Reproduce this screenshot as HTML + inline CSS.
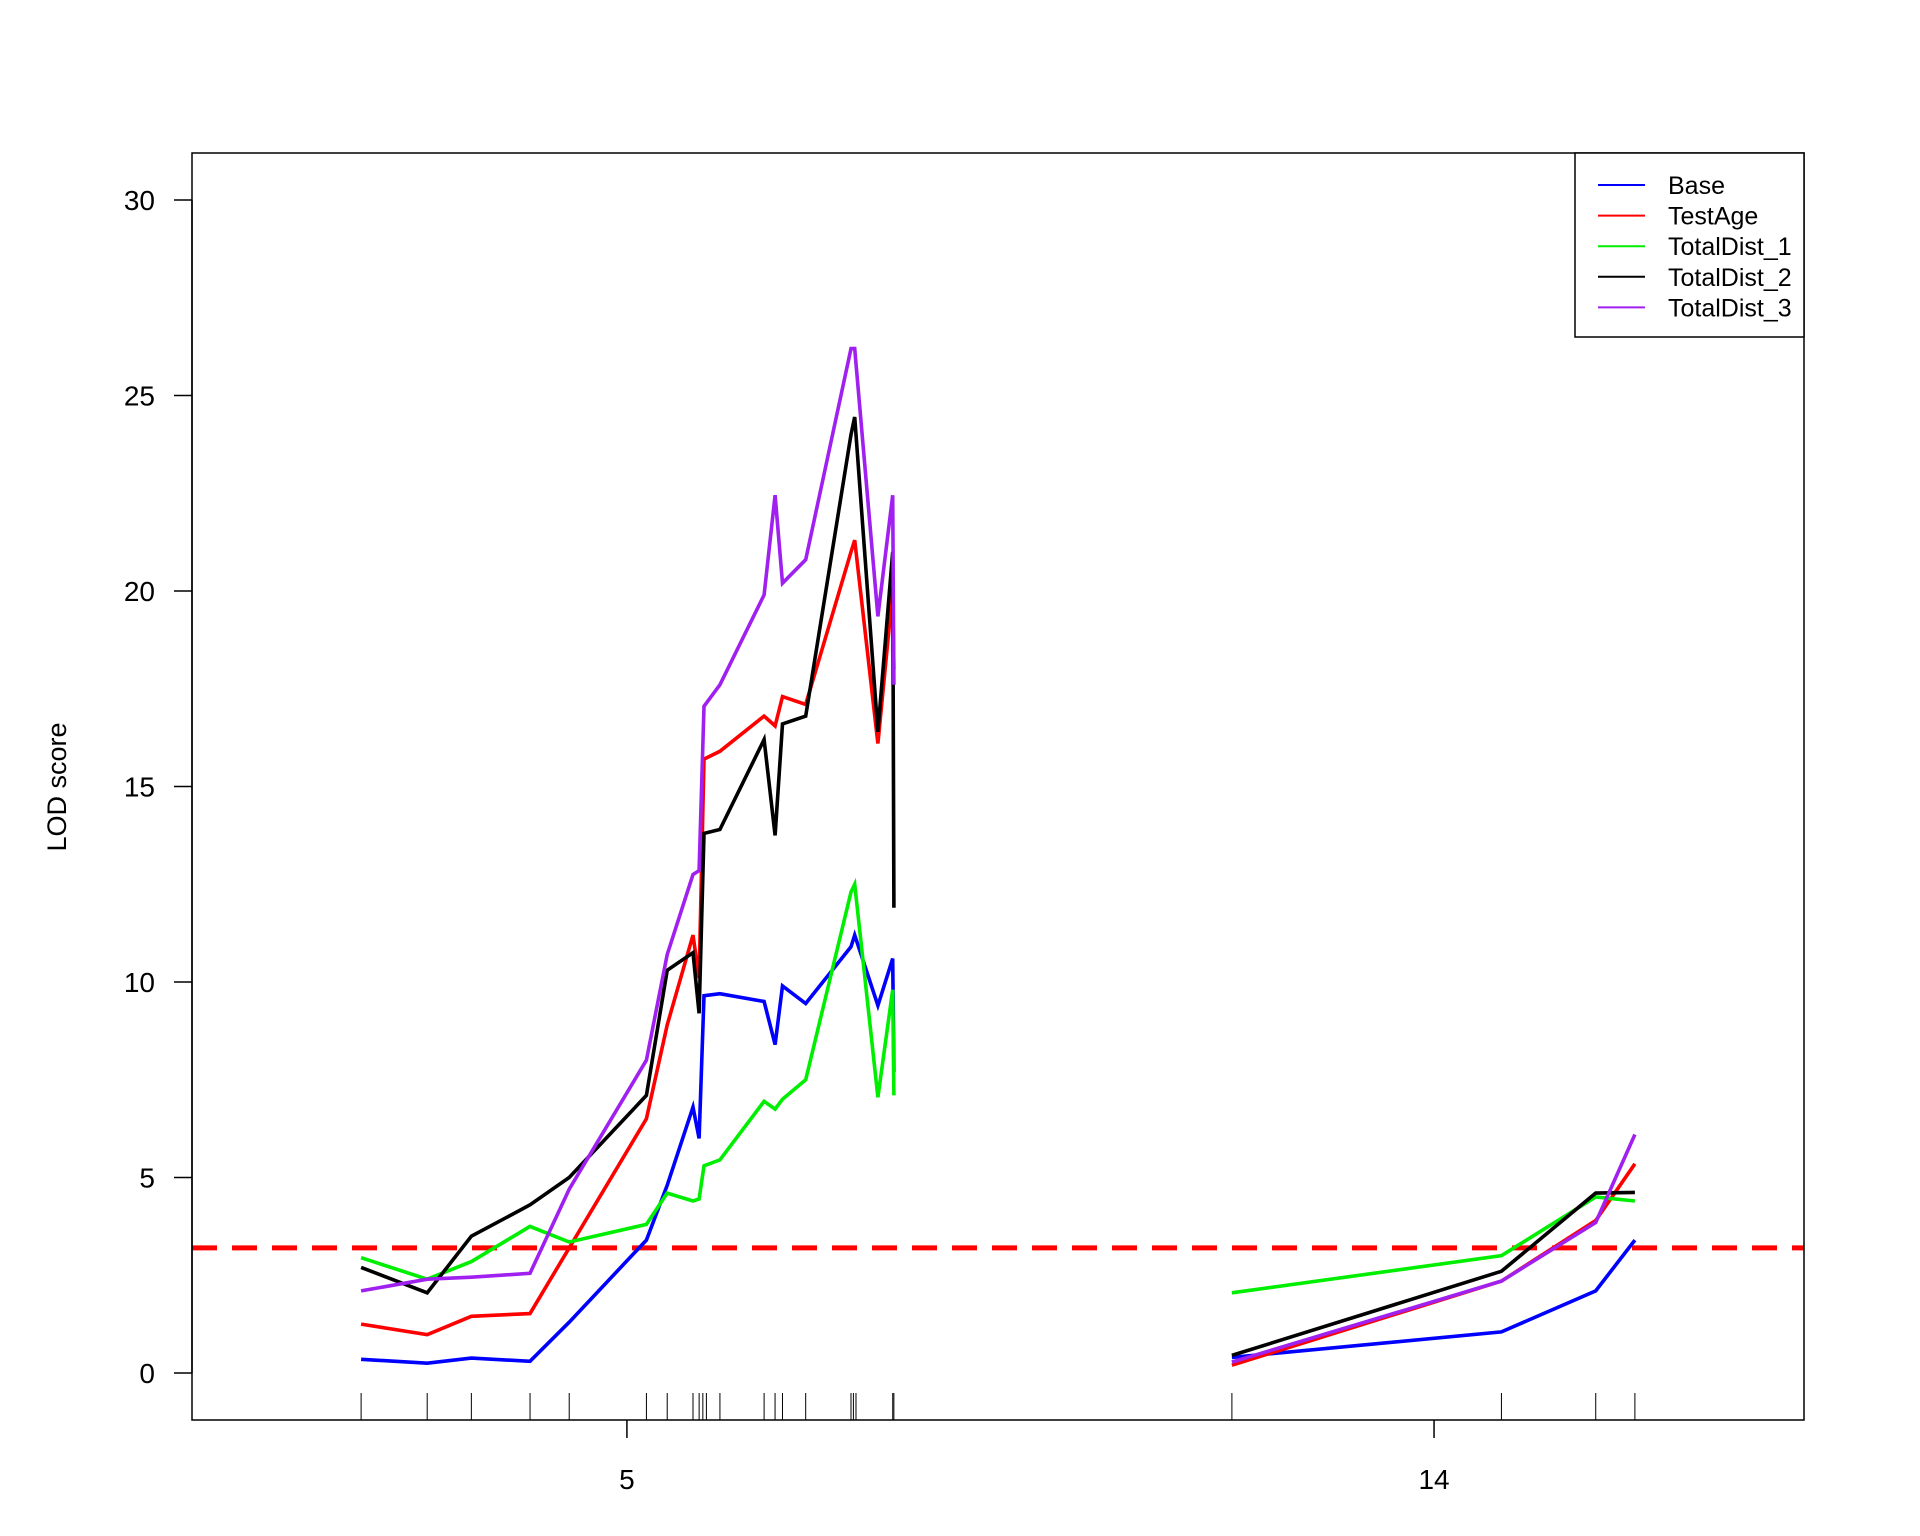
<!DOCTYPE html>
<html><head><meta charset="utf-8"><style>
html,body{margin:0;padding:0;background:#fff;}
svg{display:block;font-family:"Liberation Sans",sans-serif;}
</style></head><body>
<svg id="chart" width="1920" height="1536" viewBox="0 0 1920 1536" xmlns="http://www.w3.org/2000/svg">
<rect x="0" y="0" width="1920" height="1536" fill="#fff"/>
<g id="marks"></g>
<rect x="192" y="153" width="1612" height="1267" fill="none" stroke="#000" stroke-width="1.5"/>
<text x="66" y="787" font-size="27" text-anchor="middle" transform="rotate(-90 66 787)">LOD score</text>
<g>
<rect x="1575" y="153" width="229" height="184" fill="#fff" stroke="#000" stroke-width="1.5"/>
<g id="legend-entries"></g>
</g>
</svg>
<script>
// chromosome 5 marker positions (arbitrary position units along genome axis)
const chr5Pos = [10.49,14.59,17.33,20.97,23.40,28.19,29.48,31.08,31.46,31.76,32.75,35.49,36.17,36.63,38.07,40.88,41.11,42.55,43.47,43.54];
const chr14Pos = [64.51,81.23,87.08,89.51];
const rugPos = [10.49,14.59,17.33,20.97,23.40,28.19,29.48,31.08,31.46,31.69,31.91,32.75,35.49,36.17,36.63,38.07,40.88,41.03,41.19,43.47,43.54,64.51,81.23,87.08,89.51];
const seriesNames = ["Base","TestAge","TotalDist_1","TotalDist_2","TotalDist_3"];
const seriesColors = ["#0000ff","#ff0000","#00ee00","#000000","#a020f0"];
const base5 = [0.35,0.25,0.38,0.3,1.3,3.4,4.8,6.8,6.0,9.65,9.7,9.5,8.4,9.9,9.45,10.9,11.2,9.4,10.6,7.7];
const testAge5 = [1.25,0.98,1.45,1.52,3.2,6.5,8.9,11.2,10.1,15.7,15.9,16.8,16.55,17.3,17.1,21.0,21.3,16.1,20.0,18.0];
const td1_5 = [2.95,2.4,2.85,3.75,3.35,3.8,4.6,4.4,4.45,5.3,5.45,6.95,6.75,7.0,7.5,12.3,12.5,7.05,9.8,7.1];
const td2_5 = [2.7,2.05,3.5,4.3,5.0,7.1,10.3,10.75,9.2,13.8,13.9,16.2,13.75,16.6,16.8,24.0,24.45,16.4,21.0,11.9];
const td3_5 = [2.1,2.4,2.45,2.55,4.7,8.0,10.7,12.75,12.85,17.05,17.6,19.9,22.45,20.2,20.8,26.2,26.2,19.35,22.45,17.6];
const base14 = [0.4,1.05,2.1,3.4];
const testAge14 = [0.2,2.35,3.9,5.35];
const td1_14 = [2.05,3.0,4.5,4.4];
const td2_14 = [0.45,2.6,4.6,4.62];
const td3_14 = [0.28,2.35,3.85,6.1];
const yTicks = [0,5,10,15,20,25,30];
const xTickPos = [26.98,77.05];
const xTickLabels = ["5","14"];
const threshold = 3.2;

const NS="http://www.w3.org/2000/svg";
const X0=192,X1=1804;
const xs=v=>X0+(X1-X0)*v/100;
const ys=v=>1373-v*39.1;
const marks=document.getElementById('marks');
const svg=document.getElementById('chart');
function mk(tag,attrs,parent){const e=document.createElementNS(NS,tag);for(const k in attrs)e.setAttribute(k,attrs[k]);(parent||marks).appendChild(e);return e;}

const ya=mk('line',{x1:X0,x2:X0,y1:ys(0),y2:ys(30),stroke:'#000','stroke-width':1.5},svg);


yTicks.forEach(t=>{
  const l=mk('line',{x1:X0-18,x2:X0,y1:ys(t),y2:ys(t),stroke:'#000','stroke-width':1.5},svg);
  
  
  const tx=mk('text',{x:X0-37,y:ys(t)+10,'font-size':28,'text-anchor':'end'},svg);
  tx.textContent=t;
  
  
});
xTickPos.forEach((p,i)=>{
  const l=mk('line',{x1:xs(p),x2:xs(p),y1:1420,y2:1438,stroke:'#000','stroke-width':1.5},svg);
  
  
  const tx=mk('text',{x:xs(p),y:1489,'font-size':28,'text-anchor':'middle'},svg);
  tx.textContent=xTickLabels[i];
  
  
});
rugPos.forEach(p=>{
  const l=mk('line',{x1:xs(p),x2:xs(p),y1:1393,y2:1420,stroke:'#000','stroke-width':1});
  
  
});
const th=mk('line',{x1:X0,x2:X1,y1:ys(threshold),y2:ys(threshold),stroke:'#ff0000','stroke-width':5,'stroke-dasharray':'25 15'});


const s5=[base5,testAge5,td1_5,td2_5,td3_5], s14=[base14,testAge14,td1_14,td2_14,td3_14];
function path(pos,vals){return pos.map((p,i)=>(i?'L':'M')+xs(p).toFixed(1)+','+ys(vals[i]).toFixed(1)).join(' ');}
seriesNames.forEach((n,i)=>{
  const a=mk('path',{d:path(chr5Pos,s5[i]),fill:'none',stroke:seriesColors[i],'stroke-width':3.6});
  
  
  const b=mk('path',{d:path(chr14Pos,s14[i]),fill:'none',stroke:seriesColors[i],'stroke-width':3.6});
  
  
});
const lg=document.getElementById('legend-entries');
seriesNames.forEach((n,i)=>{
  const y=185+i*30.6;
  const l=mk('line',{x1:1598,x2:1645,y1:y,y2:y,stroke:seriesColors[i],'stroke-width':2},lg);
  
  
  const t=mk('text',{x:1668,y:y+9,'font-size':25},lg);
  t.textContent=n;
  
  
});
</script>
</body></html>
